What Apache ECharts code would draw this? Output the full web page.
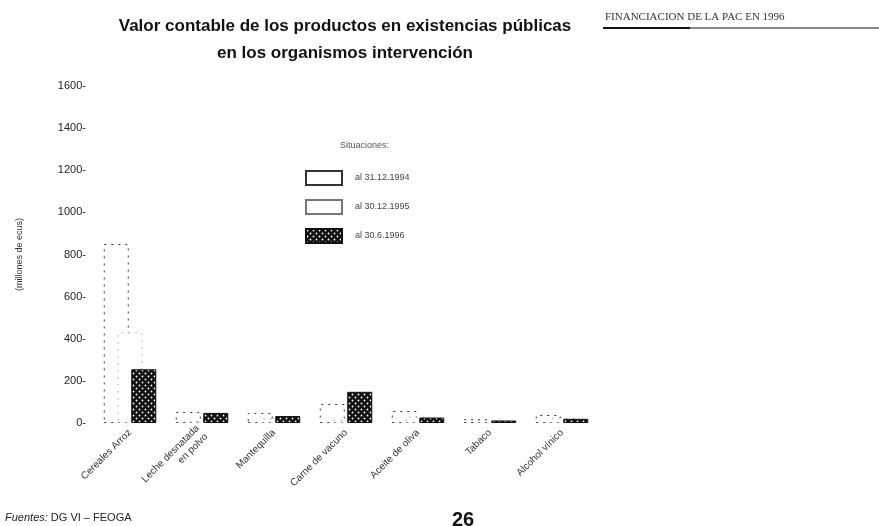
<!DOCTYPE html>
<html>
<head>
<meta charset="utf-8">
<script src="https://cdn.jsdelivr.net/npm/echarts@6/dist/echarts.min.js"></script>
<style>
  html, body { margin: 0; padding: 0; background: #fff; }
  #chart { width: 879px; height: 526px; }
</style>
</head>
<body>
<div id="chart"></div>
<script>
// productos en existencias publicas (millones de ecus)
var categorias = ['Cereales Arroz', 'Leche desnatada\nen polvo', 'Mantequilla', 'Carne de vacuno', 'Aceite de oliva', 'Tabaco', 'Alcohol vínico'];
var situaciones = ['al 31.12.1994', 'al 30.12.1995', 'al 30.6.1996'];
var valores1994 = [850, 52, 48, 90, 57, 18, 38];
var valores1995 = [430, 10, 22, 15, 30, 15, 25];
var valores1996 = [255, 48, 33, 148, 26, 12, 20];
var ticksY = [0, 200, 400, 600, 800, 1000, 1200, 1400, 1600];

// trama oscura con puntos blancos para 1996
function trama() {
  var c = document.createElement('canvas');
  c.width = 6; c.height = 6;
  var ctx = c.getContext('2d');
  ctx.fillStyle = '#111';
  ctx.fillRect(0, 0, 6, 6);
  ctx.fillStyle = '#fff';
  ctx.beginPath(); ctx.arc(1.5, 1.5, 0.9, 0, Math.PI * 2); ctx.fill();
  ctx.beginPath(); ctx.arc(4.5, 4.5, 0.9, 0, Math.PI * 2); ctx.fill();
  return c;
}

var myChart = echarts.init(document.getElementById('chart'));

var option = {
  backgroundColor: '#fff',
  animation: false,
  title: {
    text: 'Valor contable de los productos en existencias públicas\nen los organismos intervención',
    left: 340,
    top: 8,
    textAlign: 'center',
    textStyle: { fontFamily: 'Liberation Sans', fontSize: 17, fontWeight: 'bold', color: '#111', lineHeight: 27 }
  },
  legend: {
    orient: 'vertical',
    left: 300,
    top: 165,
    icon: 'rect',
    itemWidth: 36,
    itemHeight: 14,
    itemGap: 13,
    data: situaciones,
    textStyle: { fontFamily: 'Liberation Sans', fontSize: 9, color: '#444', padding: [0, 0, 0, 8] }
  },
  grid: { left: 94, right: 281, top: 86, bottom: 103, containLabel: false },
  xAxis: {
    type: 'category',
    data: categorias,
    axisLine: { show: false },
    axisTick: { show: false },
    axisLabel: {
      interval: 0,
      rotate: 45,
      margin: 8,
      fontFamily: 'Liberation Sans',
      fontSize: 10,
      color: '#333',
      lineHeight: 12
    }
  },
  yAxis: {
    type: 'value',
    min: 0,
    max: 1600,
    interval: 200,
    name: '(millones de ecus)',
    nameLocation: 'middle',
    nameGap: 70,
    nameRotate: 90,
    nameTextStyle: { fontFamily: 'Liberation Sans', fontSize: 9, color: '#333' },
    axisLine: { show: false },
    axisTick: { show: false },
    splitLine: { show: false },
    axisLabel: {
      margin: 8,
      fontFamily: 'Liberation Sans',
      fontSize: 11,
      color: '#222',
      formatter: function (v) { return ticksY.indexOf(v) >= 0 ? v + '-' : ''; }
    }
  },
  series: [
    {
      name: situaciones[0],
      type: 'bar',
      data: valores1994,
      barWidth: 25,
      barGap: '-45%',
      itemStyle: { color: '#fff', borderColor: '#333', borderWidth: 1, borderType: [2, 5] }
    },
    {
      name: situaciones[1],
      type: 'bar',
      data: valores1995,
      barWidth: 25,
      barGap: '-45%',
      itemStyle: { color: '#fff', borderColor: '#777', borderWidth: 1, borderType: [1, 6] }
    },
    {
      name: situaciones[2],
      type: 'bar',
      data: valores1996,
      barWidth: 25,
      barGap: '-45%',
      itemStyle: { color: { image: trama(), repeat: 'repeat' }, borderColor: '#111', borderWidth: 1 }
    }
  ],
  graphic: [
    {
      type: 'text', left: 340, top: 141,
      style: { text: 'Situaciones:', font: '9px "Liberation Sans"', fill: '#555' }
    },
    {
      type: 'text', left: 605, top: 12,
      style: { text: 'FINANCIACION DE LA PAC EN 1996', font: '11px "Liberation Serif"', fill: '#333' }
    },
    {
      type: 'line', shape: { x1: 603, y1: 28, x2: 879, y2: 28 },
      style: { stroke: '#111', lineWidth: 1 }
    },
    {
      type: 'line', shape: { x1: 603, y1: 28, x2: 690, y2: 28 },
      style: { stroke: '#111', lineWidth: 2 }
    },
    {
      type: 'text', left: 5, top: 512,
      style: { text: '{i|Fuentes:} DG VI – FEOGA', font: '11px "Liberation Sans"', fill: '#222',
        rich: { i: { fontStyle: 'italic', fontSize: 11, fontFamily: 'Liberation Sans' } } }
    },
    {
      type: 'text', left: 452, top: 510,
      style: { text: '26', font: 'bold 20px "Liberation Sans"', fill: '#111' }
    }
  ]
};

myChart.setOption(option);
</script>
</body>
</html>
